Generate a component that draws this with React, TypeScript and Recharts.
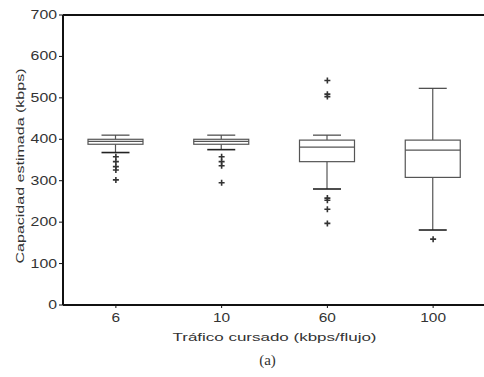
import { Bar, ComposedChart, Label, ReferenceLine, Scatter, XAxis, YAxis } from "recharts";

// box plot values (kbps)
const categories = ["6", "10", "60", "100"];
const lowerWhisker = [368, 375, 280, 181];
const q1 = [388, 388, 346, 308];
const median = [395, 395, 381, 374];
const q3 = [400, 400, 398, 398];
const upperWhisker = [410, 410, 410, 523];

const outlierCategory = ["6", "6", "6", "6", "6", "10", "10", "10", "10", "60", "60", "60", "60", "60", "60", "60", "100"];
const outlierValue = [358, 346, 334, 326, 302, 358, 346, 336, 295, 542, 509, 503, 258, 253, 231, 197, 159];

const yTicks = [0, 100, 200, 300, 400, 500, 600, 700];

const rows = categories.map((name, i) => ({
  name,
  whisker: [lowerWhisker[i], upperWhisker[i]],
  q1: q1[i],
  median: median[i],
  q3: q3[i]
}));

const outliers = outlierCategory.map((name, i) => ({ name, v: outlierValue[i] }));

const ink = "#333";
const font = "'Liberation Sans', Arial, sans-serif";

function BoxShape(props: any) {
  const { x, y, width, height, payload } = props;
  const [lo, hi] = payload.whisker;
  const top = Math.min(y, y + height);
  const k = Math.abs(height) / (hi - lo);
  const py = (v: number) => top + (hi - v) * k;
  const cx = x + width / 2;
  const cap = 14;
  return (
    <g stroke="#555" fill="none" strokeWidth={1.2}>
      <line x1={cx} x2={cx} y1={py(hi)} y2={py(payload.q3)} />
      <line x1={cx} x2={cx} y1={py(payload.q1)} y2={py(lo)} />
      <line x1={cx - cap} x2={cx + cap} y1={py(hi)} y2={py(hi)} stroke="#444" />
      <line x1={cx - cap} x2={cx + cap} y1={py(lo)} y2={py(lo)} stroke="#222" strokeWidth={1.6} />
      <rect x={x} y={py(payload.q3)} width={width} height={py(payload.q1) - py(payload.q3)} />
      <line x1={x} x2={x + width} y1={py(payload.median)} y2={py(payload.median)} />
    </g>
  );
}

function PlusShape(props: any) {
  const { cx, cy } = props;
  return (
    <g stroke="#333" strokeWidth={1.6}>
      <line x1={cx - 3} x2={cx + 3} y1={cy} y2={cy} />
      <line x1={cx} x2={cx} y1={cy - 3} y2={cy + 3} />
    </g>
  );
}

function XTick(props: any) {
  const { x, y, payload } = props;
  const s = String(payload.value);
  return (
    <text x={x} y={y + 12} textAnchor="middle" fontSize={12} fontFamily={font} fill={ink}
      textLength={s.length * 8.6} lengthAdjust="spacingAndGlyphs">
      {s}
    </text>
  );
}

function YTick(props: any) {
  const { x, y, payload } = props;
  const s = String(payload.value);
  return (
    <text x={x} y={y + 4} textAnchor="end" fontSize={12} fontFamily={font} fill={ink}
      textLength={s.length * 8.8} lengthAdjust="spacingAndGlyphs">
      {s}
    </text>
  );
}

function XTitle(props: any) {
  const { viewBox } = props;
  const cx = viewBox.x + viewBox.width / 2;
  return (
    <g>
      <text x={cx} y={viewBox.y + 36} textAnchor="middle" fontSize={11} fontFamily={font} fill={ink}
        textLength={204} lengthAdjust="spacingAndGlyphs">
        Tráfico cursado (kbps/flujo)
      </text>
      <text x={cx - 7} y={viewBox.y + 60} textAnchor="middle" fontSize={15}
        fontFamily="'Liberation Serif', serif" fill={ink}>
        (a)
      </text>
    </g>
  );
}

function YTitle(props: any) {
  const { viewBox } = props;
  const cy = viewBox.y + viewBox.height / 2 + 6;
  const tx = 24;
  return (
    <text x={tx} y={cy} transform={`rotate(-90 ${tx} ${cy})`} textAnchor="middle" fontSize={11}
      fontFamily={font} fill={ink} textLength={195} lengthAdjust="spacingAndGlyphs">
      Capacidad estimada (kbps)
    </text>
  );
}

export default function App() {
  return (
    <div style={{ position: "absolute", left: 0, top: 0, width: 484, height: 377, overflow: "hidden", background: "#fff" }}>
      <ComposedChart width={486} height={377} data={rows} margin={{ top: 15, right: 0, bottom: 0, left: 0 }}>
        <XAxis dataKey="name" type="category" allowDuplicatedCategory={false} height={72}
          axisLine={{ stroke: "#111", strokeWidth: 2 }} tickLine={{ stroke: "#111" }} tickSize={3}
          tick={<XTick />} interval={0}>
          <Label content={<XTitle />} />
        </XAxis>
        <YAxis type="number" domain={[0, 700]} ticks={yTicks} width={63} allowDataOverflow
          axisLine={{ stroke: "#111", strokeWidth: 2 }} tickLine={{ stroke: "#111" }} tickSize={4}
          tick={<YTick />} interval={0}>
          <Label content={<YTitle />} />
        </YAxis>
        <ReferenceLine y={700} stroke="#111" strokeWidth={2} />
        <Bar dataKey="whisker" barSize={55} shape={<BoxShape />} isAnimationActive={false} />
        <Scatter data={outliers} dataKey="v" shape={<PlusShape />} isAnimationActive={false} />
      </ComposedChart>
    </div>
  );
}
